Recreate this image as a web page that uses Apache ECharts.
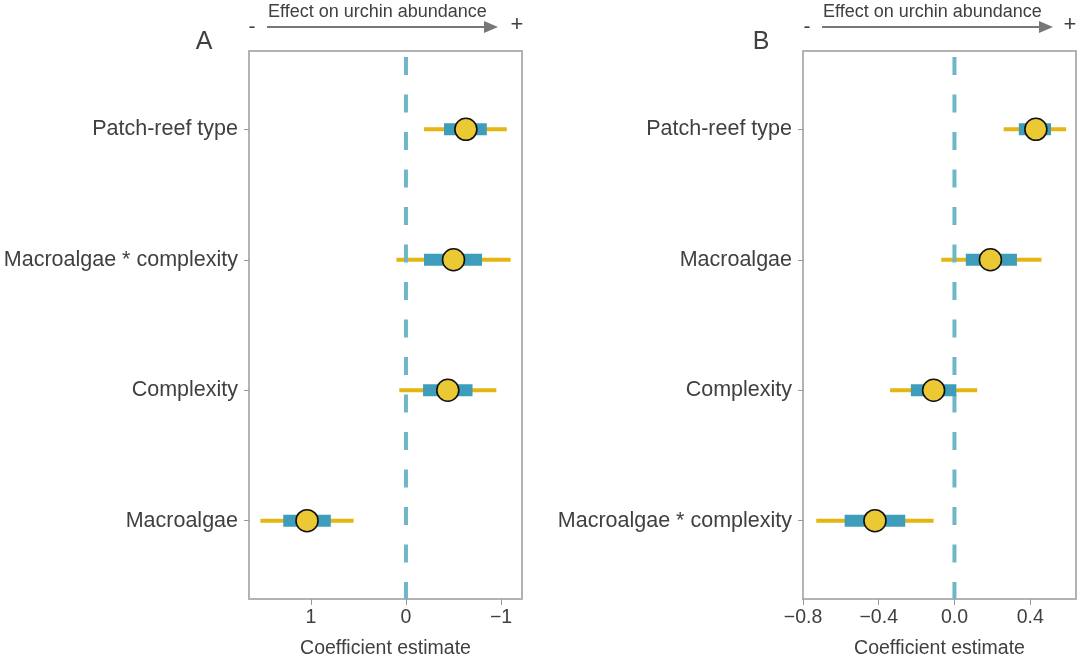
<!DOCTYPE html>
<html>
<head>
<meta charset="utf-8">
<script src="https://cdn.jsdelivr.net/npm/echarts@6/dist/echarts.min.js"></script>
<style>
  html, body { margin: 0; padding: 0; background: #fff; }
  #chart { width: 1080px; height: 660px; }
</style>
</head>
<body>
<div id="chart"></div>
<script>
// 行位置 1..4（从上到下）
const rowsA = ['Patch-reef type', 'Macroalgae * complexity', 'Complexity', 'Macroalgae']
const rowsB = ['Patch-reef type', 'Macroalgae', 'Complexity', 'Macroalgae * complexity']

// 每行：95%下限, 50%下限, 估计值, 50%上限, 95%上限
const lo95A = [-0.19, 0.10, 0.07, 1.53]
const lo50A = [-0.40, -0.19, -0.18, 1.29]
const estA = [-0.63, -0.50, -0.44, 1.04]
const hi50A = [-0.85, -0.80, -0.70, 0.79]
const hi95A = [-1.06, -1.10, -0.95, 0.55]

const lo95B = [0.26, -0.07, -0.34, -0.73]
const lo50B = [0.34, 0.06, -0.23, -0.58]
const estB = [0.43, 0.19, -0.11, -0.42]
const hi50B = [0.51, 0.33, 0.01, -0.26]
const hi95B = [0.59, 0.46, 0.12, -0.11]

const ticksA = [1, 0, -1]
const ticksB = [-0.8, -0.4, 0, 0.4]

const TEXT = '#404040'
const YELLOW = '#e5b512'
const BLUE = '#3d9dba'
const DASH = '#6db7c7'
const FONT = 'Liberation Sans'

function fmtMinus(s) {
  return String(s).replace('-', '\u2212')
}

function rows(lo95, lo50, est, hi50, hi95) {
  return est.map((e, i) => [lo95[i], lo50[i], e, hi50[i], hi95[i], i + 1])
}

function lineItem(params, api) {
  let a = api.coord([api.value(0), api.value(5)])
  let b = api.coord([api.value(4), api.value(5)])
  return {
    type: 'line',
    shape: { x1: a[0], y1: a[1], x2: b[0], y2: b[1] },
    style: { stroke: YELLOW, lineWidth: 4 }
  }
}

function boxItem(params, api) {
  let a = api.coord([api.value(1), api.value(5)])
  let b = api.coord([api.value(3), api.value(5)])
  let c = api.coord([api.value(2), api.value(5)])
  let x0 = Math.min(a[0], b[0])
  return {
    type: 'group',
    children: [
      {
        type: 'rect',
        shape: { x: x0, y: c[1] - 6, width: Math.abs(b[0] - a[0]), height: 12 },
        style: { fill: BLUE }
      },
      {
        type: 'circle',
        shape: { cx: c[0], cy: c[1], r: 11 },
        style: { fill: '#ebc935', stroke: '#111', lineWidth: 1.6 }
      }
    ]
  }
}

function yAxis(idx, names) {
  return {
    type: 'value',
    gridIndex: idx,
    min: 0.4,
    max: 4.6,
    inverse: true,
    axisLine: { show: false, onZero: false },
    splitLine: { show: false },
    axisTick: { show: true, length: 5, customValues: [1, 2, 3, 4], lineStyle: { color: '#999' } },
    axisLabel: {
      customValues: [1, 2, 3, 4],
      formatter: v => names[v - 1],
      color: TEXT,
      fontSize: 21.5,
      margin: 11,
      fontFamily: FONT
    }
  }
}

function xAxis(idx, min, max, inverse, ticks, digits) {
  return {
    type: 'value',
    gridIndex: idx,
    min: min,
    max: max,
    inverse: inverse,
    name: 'Coefficient estimate',
    nameLocation: 'middle',
    nameGap: 40,
    nameTextStyle: { color: TEXT, fontSize: 19.5, fontFamily: FONT },
    axisLine: { show: false, onZero: false },
    splitLine: { show: false },
    axisTick: { show: true, length: 6, customValues: ticks, lineStyle: { color: '#999' } },
    axisLabel: {
      customValues: ticks,
      formatter: v => fmtMinus(v.toFixed(digits)),
      color: TEXT,
      fontSize: 19.5,
      margin: 9,
      fontFamily: FONT
    }
  }
}

function zeroLine(idx) {
  return {
    type: 'line',
    xAxisIndex: idx,
    yAxisIndex: idx,
    data: [[0, 0.4], [0, 4.6]],
    symbol: 'none',
    z: 3,
    silent: true,
    lineStyle: { color: DASH, width: 4, type: [18, 19.5], dashOffset: 31.5 }
  }
}

function txt(x, y, s, size) {
  return {
    type: 'text',
    x: x,
    y: y,
    style: { text: s, fontSize: size, fill: TEXT, fontFamily: FONT, align: 'center', verticalAlign: 'middle' }
  }
}

function header(labelX, label, x0, tip, plusX) {
  return [
    txt(labelX, 42, label, 25),
    txt(x0 - 15, 27, '-', 21),
    txt(plusX, 25, '+', 22),
    { type: 'text', x: x0 + 1, y: 12, style: { text: 'Effect on urchin abundance', fontSize: 18, fill: TEXT, fontFamily: FONT, align: 'left', verticalAlign: 'middle' } },
    { type: 'line', shape: { x1: x0, y1: 27, x2: tip - 10, y2: 27 }, style: { stroke: '#777', lineWidth: 1.8 } },
    { type: 'polygon', shape: { points: [[tip - 14, 21], [tip, 27], [tip - 14, 33]] }, style: { fill: '#777' } }
  ]
}

let myChart = echarts.init(document.getElementById('chart'))
let option = {
  backgroundColor: '#fff',
  animation: false,
  grid: [
    { left: 249, right: 558, top: 51, bottom: 61, outerBoundsMode: 'none', show: true, borderColor: '#b3b3b3', borderWidth: 2 },
    { left: 803, right: 4, top: 51, bottom: 61, outerBoundsMode: 'none', show: true, borderColor: '#b3b3b3', borderWidth: 2 }
  ],
  xAxis: [
    xAxis(0, -1.22, 1.65, true, ticksA, 0),
    xAxis(1, -0.8, 0.642, false, ticksB, 1)
  ],
  yAxis: [yAxis(0, rowsA), yAxis(1, rowsB)],
  graphic: header(204, 'A', 267, 498, 517)
    .concat(header(761, 'B', 822, 1053, 1070)),
  series: [
    { type: 'custom', xAxisIndex: 0, yAxisIndex: 0, z: 2, renderItem: lineItem, data: rows(lo95A, lo50A, estA, hi50A, hi95A) },
    zeroLine(0),
    { type: 'custom', xAxisIndex: 0, yAxisIndex: 0, z: 4, renderItem: boxItem, data: rows(lo95A, lo50A, estA, hi50A, hi95A) },
    { type: 'custom', xAxisIndex: 1, yAxisIndex: 1, z: 2, renderItem: lineItem, data: rows(lo95B, lo50B, estB, hi50B, hi95B) },
    zeroLine(1),
    { type: 'custom', xAxisIndex: 1, yAxisIndex: 1, z: 4, renderItem: boxItem, data: rows(lo95B, lo50B, estB, hi50B, hi95B) }
  ]
}
myChart.setOption(option)
</script>
</body>
</html>
